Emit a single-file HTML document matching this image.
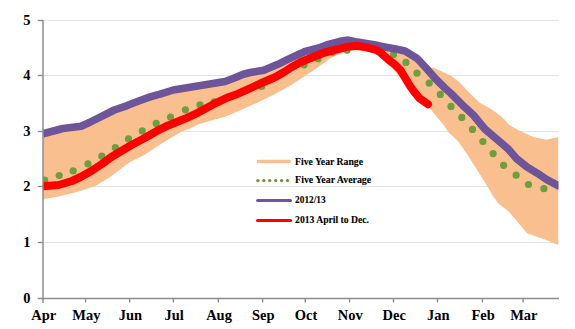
<!DOCTYPE html>
<html><head><meta charset="utf-8"><style>
html,body{margin:0;padding:0;background:#fff;width:575px;height:329px;overflow:hidden}
svg{display:block}
.t{font-family:"Liberation Serif",serif;font-weight:bold;font-size:15.4px;fill:#000}
.l{font-family:"Liberation Serif",serif;font-weight:bold;font-size:11.3px;fill:#000;stroke:#000;stroke-width:0.12px}
</style></head><body>
<svg width="575" height="329" viewBox="0 0 575 329">
<line x1="43" y1="242.5" x2="559" y2="242.5" stroke="#e3e3e3" stroke-width="1"/>
<line x1="43" y1="186.5" x2="559" y2="186.5" stroke="#e3e3e3" stroke-width="1"/>
<line x1="43" y1="131.5" x2="559" y2="131.5" stroke="#e3e3e3" stroke-width="1"/>
<line x1="43" y1="75.5" x2="559" y2="75.5" stroke="#e3e3e3" stroke-width="1"/>
<line x1="43" y1="20.5" x2="559" y2="20.5" stroke="#e3e3e3" stroke-width="1"/>
<defs><clipPath id="pc"><rect x="43" y="0" width="515.5" height="329"/></clipPath></defs>
<g clip-path="url(#pc)">
<polygon points="43.0,133.8 62.9,128.5 81.1,126.2 90.0,122.2 102.2,116.2 114.3,110.0 126.5,105.8 138.7,101.0 150.9,96.7 160.0,94.2 173.3,90.0 191.5,87.0 209.8,84.0 225.0,81.5 233.7,78.3 243.4,74.2 250.0,72.5 263.7,70.3 277.3,64.6 291.0,57.9 300.0,53.8 304.1,51.8 318.7,48.0 328.4,44.4 340.0,41.3 348.2,40.1 357.4,42.1 366.5,43.5 375.6,45.0 381.0,46.2 395.4,48.9 405.0,51.0 417.2,58.5 426.5,68.5 433.0,67.5 441.5,71.2 451.3,76.0 458.6,81.5 462.9,86.0 470.2,93.5 479.6,102.8 489.3,108.1 496.7,113.0 504.0,119.1 508.8,124.5 518.9,130.6 533.5,137.0 546.3,139.7 558.5,137.0 558.5,245.2 545.4,239.7 527.1,233.3 508.8,211.4 498.8,204.1 492.4,195.0 486.9,185.6 476.0,168.3 466.5,153.3 457.4,140.5 448.3,132.3 443.7,125.0 436.5,116.5 428.0,106.0 415.0,95.0 405.0,83.0 390.0,66.0 378.0,54.0 366.0,51.0 350.0,50.0 340.0,53.9 330.9,58.1 318.7,66.7 306.5,75.0 288.0,87.0 275.0,94.0 260.9,101.1 248.7,106.6 236.5,112.0 224.3,117.0 212.2,120.3 199.4,124.0 190.0,128.4 180.9,132.0 168.7,139.3 156.5,146.7 144.3,155.0 130.0,162.0 120.9,168.7 108.7,178.0 95.3,186.0 77.0,192.0 58.7,196.5 43.0,199.3" fill="#F9BF8F"/>
<circle cx="44.6" cy="180.2" r="3.6" fill="#6E9E3E"/>
<circle cx="59.2" cy="175.5" r="3.6" fill="#6E9E3E"/>
<circle cx="73.2" cy="170.9" r="3.6" fill="#6E9E3E"/>
<circle cx="88.0" cy="163.9" r="3.6" fill="#6E9E3E"/>
<circle cx="101.8" cy="156.2" r="3.6" fill="#6E9E3E"/>
<circle cx="115.4" cy="147.7" r="3.6" fill="#6E9E3E"/>
<circle cx="128.5" cy="138.9" r="3.6" fill="#6E9E3E"/>
<circle cx="142.3" cy="130.9" r="3.6" fill="#6E9E3E"/>
<circle cx="156.2" cy="123.4" r="3.6" fill="#6E9E3E"/>
<circle cx="170.5" cy="117.0" r="3.6" fill="#6E9E3E"/>
<circle cx="185.4" cy="109.8" r="3.6" fill="#6E9E3E"/>
<circle cx="200.0" cy="104.9" r="3.6" fill="#6E9E3E"/>
<circle cx="214.2" cy="101.8" r="3.6" fill="#6E9E3E"/>
<circle cx="261.6" cy="86.5" r="3.6" fill="#6E9E3E"/>
<circle cx="304.1" cy="64.8" r="3.6" fill="#6E9E3E"/>
<circle cx="318.1" cy="58.8" r="3.6" fill="#6E9E3E"/>
<circle cx="332.6" cy="52.3" r="3.6" fill="#6E9E3E"/>
<circle cx="347.0" cy="50.2" r="3.6" fill="#6E9E3E"/>
<circle cx="393.6" cy="54.6" r="3.6" fill="#6E9E3E"/>
<circle cx="405.9" cy="62.4" r="3.6" fill="#6E9E3E"/>
<circle cx="417.0" cy="73.2" r="3.6" fill="#6E9E3E"/>
<circle cx="429.2" cy="83.1" r="3.6" fill="#6E9E3E"/>
<circle cx="440.3" cy="94.4" r="3.6" fill="#6E9E3E"/>
<circle cx="451.0" cy="106.4" r="3.6" fill="#6E9E3E"/>
<circle cx="461.8" cy="117.4" r="3.6" fill="#6E9E3E"/>
<circle cx="472.5" cy="129.4" r="3.6" fill="#6E9E3E"/>
<circle cx="482.9" cy="141.5" r="3.6" fill="#6E9E3E"/>
<circle cx="493.1" cy="153.6" r="3.6" fill="#6E9E3E"/>
<circle cx="503.6" cy="165.3" r="3.6" fill="#6E9E3E"/>
<circle cx="516.1" cy="175.2" r="3.6" fill="#6E9E3E"/>
<circle cx="528.5" cy="184.5" r="3.6" fill="#6E9E3E"/>
<circle cx="543.9" cy="188.7" r="3.6" fill="#6E9E3E"/>
<polyline points="43.0,133.8 62.9,128.5 81.1,126.2 90.0,122.2 102.2,116.2 114.3,110.0 126.5,105.8 138.7,101.0 150.9,96.7 160.0,94.2 173.3,90.0 191.5,87.0 209.8,84.0 225.0,81.5 233.7,78.3 243.4,74.2 250.0,72.5 263.7,70.3 277.3,64.6 291.0,57.9 300.0,53.8 304.1,51.8 318.7,48.0 328.4,44.4 340.0,41.3 348.2,40.1 357.4,42.1 366.5,43.5 375.6,45.0 381.0,46.2 395.4,48.9 405.0,51.0 417.2,58.5 426.5,68.5 435.0,78.3 444.8,88.0 451.0,93.5 463.0,105.6 473.3,115.0 484.8,129.0 497.6,139.8 508.4,149.2 516.7,158.7 526.7,166.8 536.8,172.9 546.8,179.6 560.0,186.7" fill="none" stroke="#6E5499" stroke-width="7.6" stroke-linejoin="round"/>
<polyline points="43.0,186.2 58.7,185.0 72.0,181.0 80.6,177.0 91.3,171.0 101.9,164.0 110.6,157.5 121.3,151.0 131.9,144.8 144.3,138.3 156.5,131.2 168.7,125.2 184.8,118.8 195.0,114.2 205.6,108.5 216.3,102.8 226.9,97.8 237.6,93.9 245.0,90.6 259.8,83.8 275.0,77.3 284.2,72.0 291.0,67.5 300.4,62.3 312.6,57.3 324.8,52.5 340.0,48.7 348.2,46.7 357.4,45.8 366.5,47.4 376.0,49.8 380.0,52.0 384.6,56.3 390.0,61.0 394.3,64.0 400.4,70.0 405.5,78.5 410.0,86.0 414.3,92.0 419.5,98.3 428.0,104.3" fill="none" stroke="#FF0000" stroke-width="8" stroke-linejoin="round" stroke-linecap="round"/>
</g>
<line x1="43" y1="20" x2="43" y2="303" stroke="#8c8c8c" stroke-width="1.5"/>
<line x1="37.7" y1="298.5" x2="559" y2="298.5" stroke="#8c8c8c" stroke-width="1.4"/>
<line x1="37.7" y1="242.5" x2="43" y2="242.5" stroke="#8c8c8c" stroke-width="1.4"/>
<line x1="37.7" y1="186.5" x2="43" y2="186.5" stroke="#8c8c8c" stroke-width="1.4"/>
<line x1="37.7" y1="131.5" x2="43" y2="131.5" stroke="#8c8c8c" stroke-width="1.4"/>
<line x1="37.7" y1="75.5" x2="43" y2="75.5" stroke="#8c8c8c" stroke-width="1.4"/>
<line x1="37.7" y1="20.5" x2="43" y2="20.5" stroke="#8c8c8c" stroke-width="1.4"/>
<line x1="85.6" y1="298.5" x2="85.6" y2="302.5" stroke="#8c8c8c" stroke-width="1.4"/>
<line x1="129.7" y1="298.5" x2="129.7" y2="302.5" stroke="#8c8c8c" stroke-width="1.4"/>
<line x1="173.4" y1="298.5" x2="173.4" y2="302.5" stroke="#8c8c8c" stroke-width="1.4"/>
<line x1="218.3" y1="298.5" x2="218.3" y2="302.5" stroke="#8c8c8c" stroke-width="1.4"/>
<line x1="262.6" y1="298.5" x2="262.6" y2="302.5" stroke="#8c8c8c" stroke-width="1.4"/>
<line x1="305.3" y1="298.5" x2="305.3" y2="302.5" stroke="#8c8c8c" stroke-width="1.4"/>
<line x1="349.6" y1="298.5" x2="349.6" y2="302.5" stroke="#8c8c8c" stroke-width="1.4"/>
<line x1="393.5" y1="298.5" x2="393.5" y2="302.5" stroke="#8c8c8c" stroke-width="1.4"/>
<line x1="437.5" y1="298.5" x2="437.5" y2="302.5" stroke="#8c8c8c" stroke-width="1.4"/>
<line x1="482.4" y1="298.5" x2="482.4" y2="302.5" stroke="#8c8c8c" stroke-width="1.4"/>
<line x1="523.1" y1="298.5" x2="523.1" y2="302.5" stroke="#8c8c8c" stroke-width="1.4"/>
<text transform="translate(30.6,303.20) scale(0.94,1)" text-anchor="end" class="t">0</text>
<text transform="translate(30.6,247.20) scale(0.94,1)" text-anchor="end" class="t">1</text>
<text transform="translate(30.6,191.20) scale(0.94,1)" text-anchor="end" class="t">2</text>
<text transform="translate(30.6,136.20) scale(0.94,1)" text-anchor="end" class="t">3</text>
<text transform="translate(30.6,80.20) scale(0.94,1)" text-anchor="end" class="t">4</text>
<text transform="translate(30.6,25.20) scale(0.94,1)" text-anchor="end" class="t">5</text>
<text transform="translate(43.70,320.2) scale(0.94,1)" text-anchor="middle" class="t">Apr</text>
<text transform="translate(86.30,320.2) scale(0.94,1)" text-anchor="middle" class="t">May</text>
<text transform="translate(130.40,320.2) scale(0.94,1)" text-anchor="middle" class="t">Jun</text>
<text transform="translate(174.10,320.2) scale(0.94,1)" text-anchor="middle" class="t">Jul</text>
<text transform="translate(219.00,320.2) scale(0.94,1)" text-anchor="middle" class="t">Aug</text>
<text transform="translate(263.30,320.2) scale(0.94,1)" text-anchor="middle" class="t">Sep</text>
<text transform="translate(306.00,320.2) scale(0.94,1)" text-anchor="middle" class="t">Oct</text>
<text transform="translate(350.30,320.2) scale(0.94,1)" text-anchor="middle" class="t">Nov</text>
<text transform="translate(394.20,320.2) scale(0.94,1)" text-anchor="middle" class="t">Dec</text>
<text transform="translate(438.20,320.2) scale(0.94,1)" text-anchor="middle" class="t">Jan</text>
<text transform="translate(483.10,320.2) scale(0.94,1)" text-anchor="middle" class="t">Feb</text>
<text transform="translate(523.80,320.2) scale(0.94,1)" text-anchor="middle" class="t">Mar</text>
<line x1="257" y1="161.5" x2="290.7" y2="161.5" stroke="#F9BF8F" stroke-width="3.7"/>
<circle cx="257.9" cy="180.6" r="1.7" fill="#76923C"/>
<circle cx="263.8" cy="180.6" r="1.7" fill="#76923C"/>
<circle cx="269.7" cy="180.6" r="1.7" fill="#76923C"/>
<circle cx="275.7" cy="180.6" r="1.7" fill="#76923C"/>
<circle cx="281.6" cy="180.6" r="1.7" fill="#76923C"/>
<circle cx="287.5" cy="180.6" r="1.7" fill="#76923C"/>
<line x1="257.6" y1="200.6" x2="290.5" y2="200.6" stroke="#6E5499" stroke-width="3" stroke-linecap="round"/>
<line x1="257.6" y1="220.5" x2="290.5" y2="220.5" stroke="#FF0000" stroke-width="3.2" stroke-linecap="round"/>
<text x="295.1" y="164.9" class="l" textLength="67.9" lengthAdjust="spacingAndGlyphs">Five Year Range</text>
<text x="295.1" y="183.3" class="l" textLength="76.1" lengthAdjust="spacingAndGlyphs">Five Year Average</text>
<text x="295.1" y="203.2" class="l" textLength="30.6" lengthAdjust="spacingAndGlyphs">2012/13</text>
<text x="295.1" y="222.8" class="l" textLength="73.8" lengthAdjust="spacingAndGlyphs">2013 April to Dec.</text>
</svg>
</body></html>
